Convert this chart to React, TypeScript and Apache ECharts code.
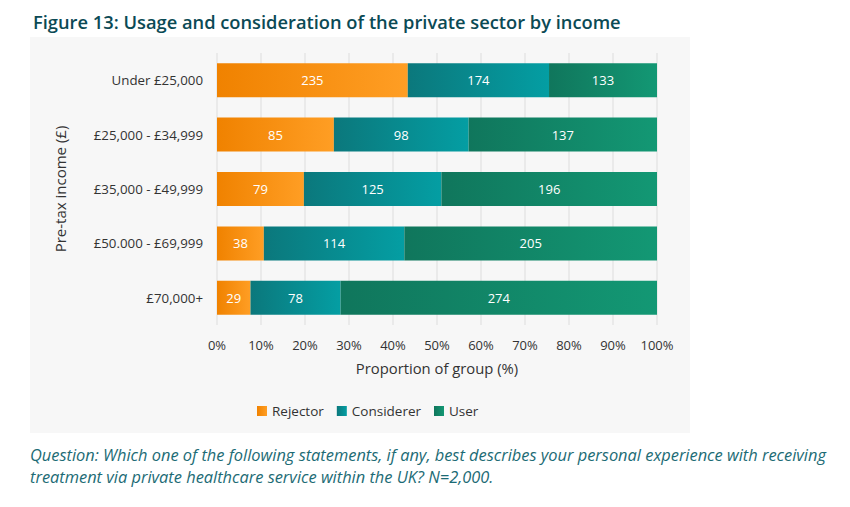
import { useEffect, useRef } from 'react'
import * as echarts from 'echarts'

const incomeBands = ['Under £25,000', '£25,000 - £34,999', '£35,000 - £49,999', '£50.000 - £69,999', '£70,000+']
const rejector = [235, 85, 79, 38, 29]
const considerer = [174, 98, 125, 114, 78]
const user = [133, 137, 196, 205, 274]

const totals = incomeBands.map((_, i) => rejector[i] + considerer[i] + user[i])

const FONT = '"Open Sans", sans-serif'

function grad(from: string, to: string) {
  return new echarts.graphic.LinearGradient(0, 0, 1, 0, [
    { offset: 0, color: from },
    { offset: 1, color: to },
  ])
}

export default function App() {
  const chartRef = useRef<HTMLDivElement>(null)

  useEffect(() => {
    document.body.style.margin = '0'
    if (!chartRef.current) return
    const chart = echarts.init(chartRef.current, undefined, { renderer: 'svg' })

    const mkSeries = (name: string, counts: number[], c: any) => ({
      name,
      type: 'bar' as const,
      stack: 'total',
      barWidth: 34,
      data: counts.map((v, i) => ({ value: (v / totals[i]) * 100, count: v })),
      itemStyle: { color: c },
      label: {
        show: true,
        position: 'inside' as const,
        color: '#fff',
        fontSize: 13,
        fontFamily: FONT,
        formatter: (p: any) => String(p.data.count),
      },
    })

    chart.setOption({
      animation: false,
      title: {
        text: 'Figure 13: Usage and consideration of the private sector by income',
        left: 28,
        top: 7,
        textStyle: { color: '#0b4a55', fontSize: 18.3, fontWeight: 600, fontFamily: FONT },
      },
      graphic: [
        {
          type: 'rect',
          z: -10,
          shape: { x: 30, y: 37, width: 660, height: 396 },
          style: { fill: '#f7f7f7' },
        },
        {
          type: 'text',
          left: 30,
          top: 443,
          style: {
            text: 'Question: Which one of the following statements, if any, best describes your personal experience with receiving\ntreatment via private healthcare service within the UK? N=2,000.',
            fill: '#1c6b75',
            fontSize: 16.4,
            fontStyle: 'italic',
            fontFamily: FONT,
            lineHeight: 22,
          },
        },
      ],
      legend: {
        top: 399,
        left: 252,
        icon: 'rect',
        itemWidth: 10,
        itemHeight: 10,
        itemGap: 13,
        textStyle: { color: '#333', fontSize: 13.5, fontFamily: FONT },
        data: ['Rejector', 'Considerer', 'User'],
      },
      grid: { left: 217, right: 193, top: 53, bottom: 182 },
      xAxis: {
        type: 'value',
        min: 0,
        max: 100,
        interval: 10,
        name: 'Proportion of group (%)',
        nameLocation: 'middle',
        nameGap: 35,
        nameTextStyle: { color: '#333', fontSize: 14.8, fontFamily: FONT },
        axisLine: { show: false },
        axisTick: { show: false },
        axisLabel: { color: '#333', fontSize: 13, fontFamily: FONT, margin: 13, formatter: '{value}%' },
        splitLine: { lineStyle: { color: '#e6e6e6', width: 1.5 } },
      },
      yAxis: {
        type: 'category',
        inverse: true,
        data: incomeBands,
        name: 'Pre-tax income (£)',
        nameLocation: 'middle',
        nameGap: 150,
        nameTextStyle: { color: '#333', fontSize: 15, fontFamily: FONT },
        axisLine: { show: false },
        axisTick: { show: false },
        axisLabel: { color: '#333', fontSize: 13.3, fontFamily: FONT, margin: 14 },
      },
      series: [
        mkSeries('Rejector', rejector, grad('#f08200', '#ff9e24')),
        mkSeries('Considerer', considerer, grad('#0b787c', '#049ea3')),
        mkSeries('User', user, grad('#10765c', '#139874')),
      ],
    })

    return () => chart.dispose()
  }, [])

  return <div ref={chartRef} style={{ width: 850, height: 507 }} />
}
